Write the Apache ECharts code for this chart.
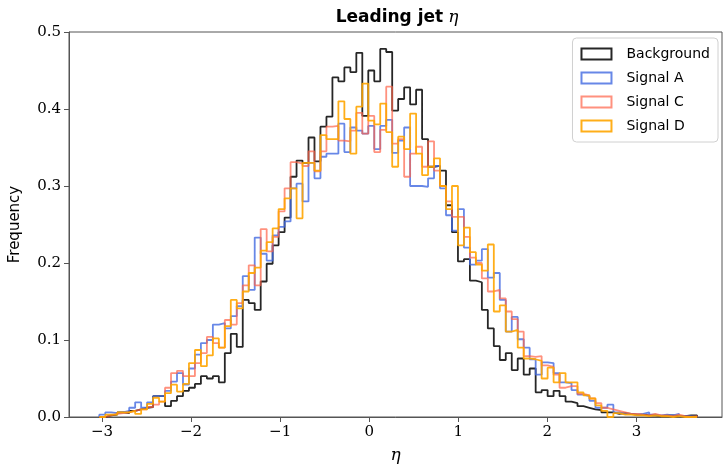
<!DOCTYPE html>
<html><head><meta charset="utf-8">
<script src="https://cdn.jsdelivr.net/npm/echarts@6/dist/echarts.min.js"></script>
<style>html,body{margin:0;padding:0;background:#fff}#c{width:725px;height:469px}</style>
</head><body><div id="c"></div>
<script>
// Histogram binning (100 shared bins)
const binStart = -3.03;
const binWidth = 0.0671;
const seriesNames = ['Background', 'Signal A', 'Signal C', 'Signal D'];
const xTicks = [-3, -2, -1, 0, 1, 2, 3];
const yTicks = [0, 0.1, 0.2, 0.3, 0.4, 0.5];

const background = [0,0.002,0.003,0.006,0.005,0.008,0.01,0.012,0.013,0.027,
0.027,0.014,0.021,0.027,0.034,0.038,0.043,0.053,0.05,0.053,
0.045,0.083,0.108,0.091,0.152,0.148,0.139,0.176,0.199,0.223,
0.240,0.259,0.312,0.333,0.330,0.363,0.332,0.377,0.39,0.441,
0.436,0.454,0.448,0.473,0.391,0.45,0.436,0.478,0.474,0.398,
0.413,0.428,0.406,0.425,0.361,0.325,0.326,0.32,0.275,0.24,
0.202,0.205,0.177,0.175,0.139,0.115,0.092,0.074,0.083,0.061,
0.076,0.055,0.063,0.032,0.035,0.027,0.034,0.027,0.02,0.018,
0.014,0.012,0.01,0.009,0.006,0.006,0.004,0.005,0.004,0.003,
0.003,0.002,0.002,0.001,0.002,0.002,0.001,0.001,0.002,0.002];

const signalA = [0.003,0.006,0.005,0.006,0.008,0.012,0.019,0.012,0.019,0.027,
0.027,0.034,0.046,0.057,0.042,0.063,0.081,0.096,0.1,0.12,
0.122,0.115,0.131,0.144,0.183,0.165,0.233,0.212,0.203,0.236,
0.247,0.254,0.297,0.303,0.28,0.33,0.31,0.338,0.342,0.342,
0.381,0.344,0.376,0.372,0.368,0.378,0.348,0.378,0.386,0.343,
0.359,0.376,0.30,0.30,0.299,0.31,0.326,0.297,0.262,0.242,
0.27,0.22,0.198,0.203,0.218,0.181,0.187,0.152,0.111,0.13,
0.101,0.09,0.075,0.055,0.071,0.07,0.057,0.045,0.044,0.035,
0.029,0.027,0.021,0.012,0.012,0.016,0.006,0.004,0.004,0.003,
0.004,0.006,0.003,0.002,0.003,0.002,0.004,0.001,0.001,0.0];

const signalC = [0,0.002,0.004,0.005,0.006,0.008,0.01,0.01,0.013,0.016,
0.02,0.038,0.057,0.06,0.053,0.053,0.07,0.083,0.104,0.096,
0.09,0.126,0.12,0.148,0.171,0.197,0.171,0.244,0.215,0.234,
0.267,0.297,0.331,0.329,0.326,0.345,0.319,0.345,0.377,0.378,
0.359,0.358,0.372,0.395,0.368,0.391,0.344,0.373,0.429,0.355,
0.361,0.312,0.342,0.351,0.325,0.358,0.32,0.30,0.28,0.26,
0.26,0.234,0.207,0.2,0.18,0.163,0.165,0.154,0.137,0.127,
0.111,0.079,0.078,0.079,0.067,0.065,0.055,0.038,0.04,0.04,
0.03,0.028,0.024,0.018,0.012,0.01,0.008,0.006,0.004,0.004,
0.003,0.002,0.004,0.002,0.002,0.001,0.003,0.001,0.0,0.001];

const signalD = [0,0.003,0.003,0.006,0.006,0.008,0.004,0.01,0.017,0.025,
0.02,0.031,0.042,0.033,0.043,0.07,0.087,0.066,0.08,0.102,
0.09,0.118,0.152,0.141,0.163,0.187,0.194,0.216,0.227,0.245,
0.27,0.284,0.297,0.258,0.33,0.33,0.32,0.366,0.361,0.361,
0.41,0.387,0.342,0.403,0.433,0.385,0.38,0.407,0.37,0.325,
0.364,0.348,0.394,0.342,0.314,0.325,0.336,0.30,0.27,0.30,
0.223,0.246,0.214,0.198,0.19,0.224,0.137,0.145,0.111,0.113,
0.09,0.076,0.075,0.073,0.05,0.064,0.045,0.057,0.045,0.045,
0.032,0.028,0.024,0.015,0.008,0.0,0.005,0.003,0.003,0.002,
0.002,0.001,0.002,0.001,0.001,0.0,0.001,0.0,0.0,0.0];

const colors = ['rgba(0,0,0,0.85)', 'rgba(65,105,225,0.8)', 'rgba(255,99,71,0.7)', 'rgba(255,165,0,0.9)'];
const allValues = [background, signalA, signalC, signalD];

function stepPoints(vals) {
  const pts = [];
  const e = i => +(binStart + i * binWidth).toFixed(5);
  pts.push([e(0), 0]);
  for (let i = 0; i < vals.length; i++) {
    pts.push([e(i), vals[i]]);
    pts.push([e(i + 1), vals[i]]);
  }
  pts.push([e(vals.length), 0]);
  return pts;
}

const serif = 'DejaVu Serif';
const sans = 'DejaVu Sans';
const chart = echarts.init(document.getElementById('c'));
chart.setOption({
  animation: false,
  title: {
    text: '{b|Leading jet} {e|η}',
    left: 392, top: 4, textAlign: 'center',
    textStyle: { rich: {
      b: { fontFamily: sans, fontWeight: 'bold', fontSize: 17, color: '#000' },
      e: { fontFamily: serif, fontStyle: 'italic', fontWeight: 'normal', fontSize: 17, color: '#000' }
    } }
  },
  grid: { left: 63, right: 3, top: 32, bottom: 50, show: true, borderColor: '#555', borderWidth: 1 },
  legend: {
    right: 7, top: 38, orient: 'vertical',
    padding: [9, 8, 9, 8], itemGap: 10, itemWidth: 30, itemHeight: 11,
    borderColor: '#d0d0d0', borderWidth: 1, borderRadius: 4, backgroundColor: '#fff',
    textStyle: { fontFamily: sans, fontSize: 14, color: '#000', padding: [0, 0, 0, 10] },
    data: seriesNames.map((n, i) => ({ name: n, icon: 'rect',
      itemStyle: { color: 'rgba(255,255,255,0)', borderColor: colors[i], borderWidth: 2 } }))
  },
  xAxis: {
    type: 'value', min: -3.37, max: 3.96,
    name: 'η', nameLocation: 'middle', nameGap: 30,
    nameTextStyle: { fontFamily: serif, fontStyle: 'italic', fontSize: 17, color: '#000' },
    axisLine: { show: true, onZero: false, lineStyle: { color: '#555' } },
    axisTick: { show: true, length: 5, lineStyle: { color: '#555' }, customValues: xTicks },
    axisLabel: { fontFamily: serif, fontSize: 15, color: '#000', margin: 8,
      customValues: xTicks, formatter: v => (v < 0 ? '\u2212' : '') + Math.abs(v) },
    splitLine: { show: false }
  },
  yAxis: {
    type: 'value', min: yTicks[0], max: yTicks[yTicks.length - 1], interval: 0.1,
    name: 'Frequency', nameLocation: 'middle', nameGap: 46, nameRotate: 90,
    nameTextStyle: { fontFamily: sans, fontSize: 15, color: '#000' },
    axisLine: { show: true, onZero: false, lineStyle: { color: '#555' } },
    axisTick: { show: true, length: 5, lineStyle: { color: '#555' } },
    axisLabel: { fontFamily: serif, fontSize: 15, color: '#000', margin: 8,
      formatter: v => v.toFixed(1) },
    splitLine: { show: false }
  },
  series: allValues.map((vals, i) => ({
    name: seriesNames[i], type: 'line', data: stepPoints(vals),
    showSymbol: false, symbol: 'none',
    lineStyle: { color: colors[i], width: 1.8 },
    itemStyle: { color: colors[i] }
  }))
});
</script></body></html>
